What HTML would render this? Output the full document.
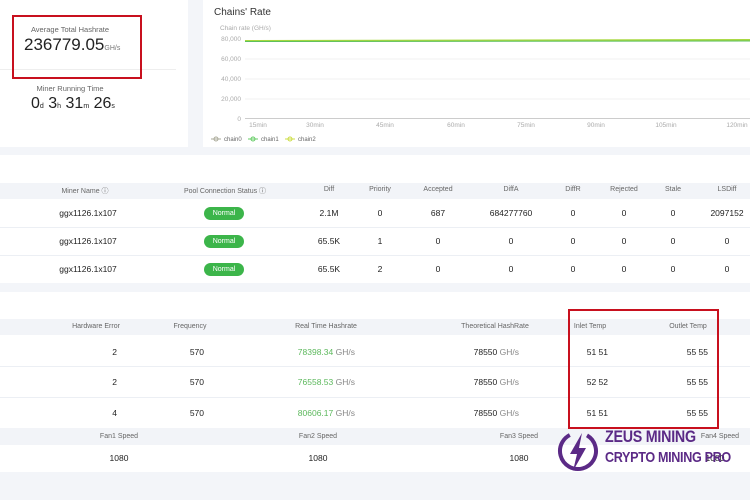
<!DOCTYPE html>
<html><head><meta charset="utf-8"><style>
*{margin:0;padding:0;box-sizing:border-box}
body{width:750px;height:500px;background:#f3f5f9;font-family:"Liberation Sans",sans-serif;position:relative;overflow:hidden;color:#333}
.a{position:absolute;white-space:nowrap}
.c{transform:translateX(-50%)}
.r{transform:translateX(-100%)}
.h{font-size:7px;color:#666}
.v{font-size:8.5px;color:#222}
.badge{background:#3cb54a;color:#fff;font-size:7px;border-radius:7px;width:40px;height:13px;line-height:13px;text-align:center}
.g{color:#5cb85c}.u{color:#888}
.ln{position:absolute;left:0;width:750px;height:1px;background:#eceff4}
</style></head><body>
<div class="a" style="left:0;top:0;width:188px;height:147px;background:#fff"></div>
<div class="a" style="left:203px;top:0;width:547px;height:147px;background:#fff"></div>
<div class="a" style="left:0;top:69px;width:176px;height:1px;background:#eee"></div>
<div class="a c h" style="left:70px;top:25px;font-size:7.5px">Average Total Hashrate</div>
<div class="a" style="left:24px;top:35px;font-size:17px;color:#222">236779.05<span style="font-size:7px;color:#777">GH/s</span></div>
<div class="a c h" style="left:70px;top:84px;font-size:7.5px">Miner Running Time</div>
<div class="a" style="left:31px;top:95px;font-size:16px;color:#222">0<span style="font-size:7px">d</span> 3<span style="font-size:7px">h</span> 31<span style="font-size:7px">m</span> 26<span style="font-size:7px">s</span></div>
<div class="a" style="left:12px;top:15px;width:130px;height:64px;border:2px solid #c8101e"></div>

<div class="a" style="left:214px;top:7px;font-size:10px;color:#333">Chains' Rate</div>
<div class="a h" style="left:220px;top:25px;font-size:6.5px;color:#aaa">Chain rate (GH/s)</div>
<svg class="a" style="left:203px;top:0" width="547" height="147">
<g stroke="#f0f0f0"><line x1="42" y1="59" x2="547" y2="59"/><line x1="42" y1="79" x2="547" y2="79"/><line x1="42" y1="99" x2="547" y2="99"/></g>
<line x1="42" y1="118.5" x2="547" y2="118.5" stroke="#ccc"/>
<g font-size="6.5" fill="#aaa" text-anchor="end" font-family="Liberation Sans"><text x="38" y="41">80,000</text><text x="38" y="61">60,000</text><text x="38" y="81">40,000</text><text x="38" y="101">20,000</text><text x="38" y="121">0</text></g>
<g font-size="6.5" fill="#aaa" text-anchor="middle" font-family="Liberation Sans"><text x="55" y="127">15min</text><text x="112" y="127">30min</text><text x="182" y="127">45min</text><text x="253" y="127">60min</text><text x="323" y="127">75min</text><text x="393" y="127">90min</text><text x="463" y="127">105min</text><text x="534" y="127">120min</text></g>
<line x1="42" y1="41" x2="547" y2="40" stroke="#a8d840" stroke-width="2"/>
<line x1="42" y1="41.5" x2="547" y2="41" stroke="#5cc05c" stroke-width="1"/>
<g font-size="6" fill="#666" font-family="Liberation Sans"><circle cx="13" cy="139" r="2" fill="none" stroke="#aa9"/><line x1="8" y1="139" x2="18" y2="139" stroke="#aa9"/><text x="21" y="141">chain0</text>
<circle cx="50" cy="139" r="2" fill="none" stroke="#6c6"/><line x1="45" y1="139" x2="55" y2="139" stroke="#6c6"/><text x="58" y="141">chain1</text>
<circle cx="87" cy="139" r="2" fill="none" stroke="#cd4"/><line x1="82" y1="139" x2="92" y2="139" stroke="#cd4"/><text x="95" y="141">chain2</text></g>
</svg>

<div class="a" style="left:0;top:155px;width:750px;height:128px;background:#fff"></div>
<div class="a" style="left:0;top:183px;width:750px;height:16px;background:#f2f4f8"></div>
<div class="ln" style="top:227px"></div><div class="ln" style="top:255px"></div>
<div class="a c h" style="left:85px;top:186px">Miner Name ⓘ</div>
<div class="a c h" style="left:225px;top:186px">Pool Connection Status ⓘ</div>
<div class="a c h" style="left:329px;top:186px">Diff</div>
<div class="a c h" style="left:380px;top:186px">Priority</div>
<div class="a c h" style="left:438px;top:186px">Accepted</div>
<div class="a c h" style="left:511px;top:186px">DiffA</div>
<div class="a c h" style="left:573px;top:186px">DiffR</div>
<div class="a c h" style="left:624px;top:186px">Rejected</div>
<div class="a c h" style="left:673px;top:186px">Stale</div>
<div class="a c h" style="left:727px;top:186px">LSDiff</div>
<div class="a c v" style="left:88px;top:208px">ggx1126.1x107</div><div class="a badge" style="left:204px;top:207px">Normal</div>
<div class="a c v" style="left:329px;top:208px">2.1M</div><div class="a c v" style="left:380px;top:208px">0</div><div class="a c v" style="left:438px;top:208px">687</div><div class="a c v" style="left:511px;top:208px">684277760</div><div class="a c v" style="left:573px;top:208px">0</div><div class="a c v" style="left:624px;top:208px">0</div><div class="a c v" style="left:673px;top:208px">0</div><div class="a c v" style="left:727px;top:208px">2097152</div>
<div class="a c v" style="left:88px;top:236px">ggx1126.1x107</div><div class="a badge" style="left:204px;top:235px">Normal</div>
<div class="a c v" style="left:329px;top:236px">65.5K</div><div class="a c v" style="left:380px;top:236px">1</div><div class="a c v" style="left:438px;top:236px">0</div><div class="a c v" style="left:511px;top:236px">0</div><div class="a c v" style="left:573px;top:236px">0</div><div class="a c v" style="left:624px;top:236px">0</div><div class="a c v" style="left:673px;top:236px">0</div><div class="a c v" style="left:727px;top:236px">0</div>
<div class="a c v" style="left:88px;top:264px">ggx1126.1x107</div><div class="a badge" style="left:204px;top:263px">Normal</div>
<div class="a c v" style="left:329px;top:264px">65.5K</div><div class="a c v" style="left:380px;top:264px">2</div><div class="a c v" style="left:438px;top:264px">0</div><div class="a c v" style="left:511px;top:264px">0</div><div class="a c v" style="left:573px;top:264px">0</div><div class="a c v" style="left:624px;top:264px">0</div><div class="a c v" style="left:673px;top:264px">0</div><div class="a c v" style="left:727px;top:264px">0</div>

<div class="a" style="left:0;top:292px;width:750px;height:180px;background:#fff"></div>
<div class="a" style="left:0;top:319px;width:750px;height:16px;background:#f2f4f8"></div>
<div class="ln" style="top:366px"></div><div class="ln" style="top:397px"></div>
<div class="a" style="left:0;top:428px;width:750px;height:17px;background:#f2f4f8"></div>
<div class="a c h" style="left:96px;top:323px">Hardware Error</div>
<div class="a c h" style="left:190px;top:323px">Frequency</div>
<div class="a c h" style="left:326px;top:323px">Real Time Hashrate</div>
<div class="a c h" style="left:495px;top:323px">Theoretical HashRate</div>
<div class="a c h" style="left:590px;top:323px">Inlet Temp</div>
<div class="a c h" style="left:688px;top:323px">Outlet Temp</div>
<div class="a r v" style="left:117px;top:347px">2</div><div class="a r v" style="left:204px;top:347px">570</div><div class="a r v" style="left:355px;top:347px"><span class="g">78398.34</span> <span class="u">GH/s</span></div><div class="a r v" style="left:519px;top:347px">78550 <span class="u">GH/s</span></div><div class="a r v" style="left:608px;top:347px">51 51</div><div class="a r v" style="left:708px;top:347px">55 55</div>
<div class="a r v" style="left:117px;top:377px">2</div><div class="a r v" style="left:204px;top:377px">570</div><div class="a r v" style="left:355px;top:377px"><span class="g">76558.53</span> <span class="u">GH/s</span></div><div class="a r v" style="left:519px;top:377px">78550 <span class="u">GH/s</span></div><div class="a r v" style="left:608px;top:377px">52 52</div><div class="a r v" style="left:708px;top:377px">55 55</div>
<div class="a r v" style="left:117px;top:408px">4</div><div class="a r v" style="left:204px;top:408px">570</div><div class="a r v" style="left:355px;top:408px"><span class="g">80606.17</span> <span class="u">GH/s</span></div><div class="a r v" style="left:519px;top:408px">78550 <span class="u">GH/s</span></div><div class="a r v" style="left:608px;top:408px">51 51</div><div class="a r v" style="left:708px;top:408px">55 55</div>
<div class="a c h" style="left:119px;top:433px">Fan1 Speed</div><div class="a c h" style="left:318px;top:433px">Fan2 Speed</div><div class="a c h" style="left:519px;top:433px">Fan3 Speed</div><div class="a c h" style="left:720px;top:433px">Fan4 Speed</div>
<div class="a c v" style="left:119px;top:453px">1080</div><div class="a c v" style="left:318px;top:453px">1080</div><div class="a c v" style="left:519px;top:453px">1080</div><div class="a c v" style="left:715px;top:453px">1080</div>
<div class="a" style="left:568px;top:309px;width:151px;height:120px;border:2px solid #c8101e"></div>

<svg class="a" style="left:557px;top:429px" width="44" height="44"><circle cx="21" cy="22" r="18" fill="none" stroke="#5b2a86" stroke-width="4" stroke-dasharray="95 18" transform="rotate(-60 21 22)"/><polygon points="25,4 13,25 20,25 16,42 29,19 22,19" fill="#5b2a86"/></svg>
<div class="a" style="left:605px;top:427px;font-size:17px;font-weight:bold;color:#5b2a86;letter-spacing:-0.3px;transform:scaleX(0.84);transform-origin:left">ZEUS MINING</div>
<div class="a" style="left:605px;top:449px;font-size:15px;font-weight:bold;color:#5b2a86;letter-spacing:-0.4px;transform:scaleX(0.84);transform-origin:left">CRYPTO MINING PRO</div>
</body></html>
